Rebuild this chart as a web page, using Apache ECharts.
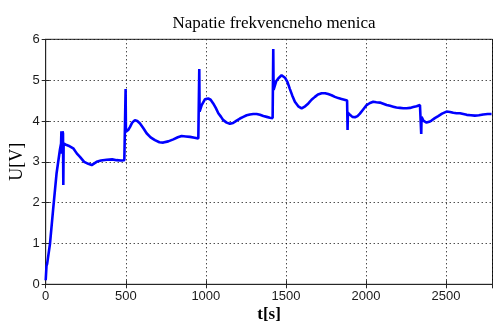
<!DOCTYPE html>
<html>
<head>
<meta charset="utf-8">
<script src="https://cdn.jsdelivr.net/npm/echarts@6/dist/echarts.min.js"></script>
<style>
  html, body { margin: 0; padding: 0; background: #fff; }
  #chart { width: 493px; height: 324px; }
</style>
</head>
<body>
<div id="chart"></div>
<script>
// Time samples [s] and inverter voltage [V]
const timeS = [
  0, 5, 9, 27, 48, 68, 89, 96, 98, 101, 105, 108, 110, 112, 131, 150, 172, 195, 214, 240,
  266, 287, 318, 345, 381, 415, 443, 470, 491, 497, 499, 501, 515, 526, 540, 557, 572, 589, 610, 630,
  655, 682, 710, 734, 765, 797, 825, 849, 875, 901, 930, 953, 957, 959, 961, 974, 994, 1015, 1030, 1046,
  1062, 1078, 1095, 1109, 1130, 1150, 1170, 1192, 1213, 1234, 1255, 1275, 1296, 1317, 1338, 1359, 1380, 1400, 1417, 1420,
  1421, 1423, 1440, 1452, 1473, 1494, 1510, 1525, 1540, 1556, 1577, 1598, 1620, 1640, 1660, 1681, 1700, 1723, 1745, 1764,
  1785, 1806, 1827, 1847, 1865, 1882, 1884, 1885, 1887, 1900, 1915, 1931, 1947, 1962, 1980, 2004, 2025, 2045, 2065, 2087,
  2108, 2129, 2150, 2170, 2190, 2212, 2233, 2254, 2275, 2295, 2316, 2337, 2343, 2344, 2345, 2347, 2360, 2378, 2395, 2409,
  2430, 2451, 2475, 2503, 2525, 2545, 2565, 2587, 2608, 2629, 2655, 2680, 2705, 2732, 2760, 2784
];
const voltage = [
  0.1, 0.45, 0.5, 1.0, 1.9, 2.72, 3.3, 3.45, 3.75, 3.2, 3.75, 3.7, 2.43, 3.45, 3.41, 3.38, 3.33, 3.2, 3.12, 3.0,
  2.95, 2.92, 3.0, 3.03, 3.05, 3.06, 3.04, 3.03, 3.04, 3.05, 4.78, 3.74, 3.78, 3.85, 3.96, 4.02, 4.0, 3.94, 3.82, 3.7,
  3.6, 3.53, 3.48, 3.47, 3.5, 3.55, 3.6, 3.63, 3.62, 3.61, 3.59, 3.57, 3.56, 5.27, 4.23, 4.39, 4.53, 4.55, 4.52, 4.43,
  4.32, 4.19, 4.1, 4.02, 3.96, 3.93, 3.95, 4.01, 4.06, 4.1, 4.14, 4.16, 4.17, 4.17, 4.15, 4.12, 4.1, 4.08, 4.07, 4.06,
  5.76, 4.76, 4.98, 5.04, 5.12, 5.06, 4.95, 4.78, 4.62, 4.47, 4.36, 4.31, 4.36, 4.43, 4.52, 4.59, 4.65, 4.68, 4.68, 4.66,
  4.63, 4.59, 4.56, 4.54, 4.52, 4.5, 4.48, 3.78, 4.2, 4.15, 4.1, 4.09, 4.12, 4.18, 4.27, 4.39, 4.44, 4.47, 4.46, 4.45,
  4.42, 4.39, 4.37, 4.35, 4.33, 4.32, 4.31, 4.31, 4.32, 4.34, 4.36, 4.39, 4.4, 4.43, 3.68, 4.1, 4.0, 3.96, 3.98, 4.01,
  4.07, 4.12, 4.18, 4.23, 4.22, 4.2, 4.19, 4.19, 4.17, 4.15, 4.14, 4.13, 4.14, 4.16, 4.17, 4.17
];
const xTicks = [0, 500, 1000, 1500, 2000, 2500];
const yTicks = [0, 1, 2, 3, 4, 5, 6];

const points = timeS.map((t, i) => [t, voltage[i]]);

const axisColor = '#262626';
const tickFont = { fontFamily: 'Liberation Sans', fontSize: 13, color: '#1a1a1a' };
const gridDots = { color: '#000', width: 1, type: [1, 3] };

const chart = echarts.init(document.getElementById('chart'), null, { renderer: 'canvas' });
chart.setOption({
  animation: false,
  backgroundColor: '#fff',
  title: {
    text: 'Napatie frekvencneho menica',
    left: 269, textAlign: 'center', top: 10,
    textStyle: { fontFamily: 'Liberation Serif', fontSize: 17, fontWeight: 'normal', color: '#000' }
  },
  grid: {
    left: 45.7, right: 0.5, top: 39.3, bottom: 39.7,
    outerBoundsMode: 'none', containLabel: false,
    show: true, borderColor: axisColor, borderWidth: 1, backgroundColor: '#fff'
  },
  xAxis: [{
    type: 'value', min: 0, max: 2790, interval: 500,
    name: 't[s]', nameLocation: 'middle', nameGap: 22, nameMoveOverlap: false,
    nameTextStyle: { fontFamily: 'Liberation Serif', fontSize: 17, fontWeight: 'bold', color: '#000' },
    axisLine: { show: true, lineStyle: { color: axisColor } },
    axisTick: { show: true, inside: true, length: 4, lineStyle: { color: axisColor } },
    axisLabel: Object.assign({ margin: 6, formatter: v => (xTicks.includes(v) ? String(v) : '') }, tickFont),
    splitLine: { show: true, lineStyle: gridDots }
  }, {
    type: 'value', min: 0, max: 2790, interval: 500, position: 'top',
    axisLine: { show: true, lineStyle: { color: axisColor } },
    axisTick: { show: true, inside: true, length: 4, lineStyle: { color: axisColor } },
    axisLabel: { show: false }, splitLine: { show: false }
  }],
  yAxis: [{
    type: 'value', min: 0, max: 6, interval: 1,
    name: 'U[V]', nameLocation: 'middle', nameGap: 19, nameMoveOverlap: false,
    nameTextStyle: { fontFamily: 'Liberation Serif', fontSize: 18, color: '#000' },
    axisLine: { show: true, lineStyle: { color: axisColor } },
    axisTick: { show: true, inside: true, length: 4, lineStyle: { color: axisColor } },
    axisLabel: Object.assign({ margin: 6, formatter: v => (yTicks.includes(v) ? String(v) : '') }, tickFont),
    splitLine: { show: true, lineStyle: gridDots }
  }, {
    type: 'value', min: 0, max: 6, interval: 1, position: 'right',
    axisLine: { show: true, lineStyle: { color: axisColor } },
    axisTick: { show: true, inside: true, length: 4, lineStyle: { color: axisColor } },
    axisLabel: { show: false }, splitLine: { show: false }
  }],
  series: [{
    type: 'line',
    data: points,
    xAxisIndex: 0, yAxisIndex: 0,
    showSymbol: false,
    smooth: false,
    lineStyle: { color: '#0000ff', width: 2.6 },
    clip: true
  }]
});
</script>
</body>
</html>
